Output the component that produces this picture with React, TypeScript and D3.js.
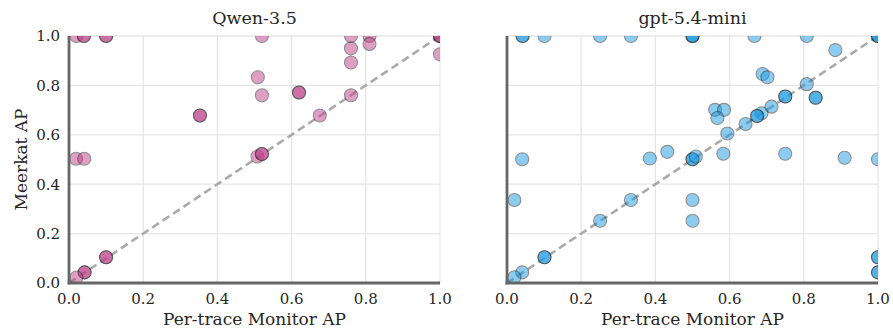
import React, {useEffect, useRef} from 'react';
import * as d3 from 'd3';

// panel titles and colours
const models = ["Qwen-3.5", "gpt-5.4-mini"];
const colors = ["#c0408a", "#1a9be2"];
const ticks = [0, 0.2, 0.4, 0.6, 0.8, 1.0];

// per-trace monitor AP (x) vs Meerkat AP (y), one list per model
const qwenX = [0.02, 0.04, 0.04, 0.1, 0.1, 0.52, 0.76, 0.76, 0.76, 0.76, 0.81, 0.81, 1.0, 1.0, 1.0, 1.0,
    0.509, 0.52, 0.62, 0.62, 0.353, 0.353, 0.676, 0.019, 0.041, 0.508, 0.52, 0.52, 0.1, 0.1, 0.042, 0.042, 0.02];
const qwenY = [1.0, 1.0, 1.0, 1.0, 1.0, 1.0, 1.0, 0.95, 0.893, 0.76, 1.0, 0.968, 1.0, 1.0, 1.0, 0.926,
    0.833, 0.76, 0.771, 0.771, 0.678, 0.678, 0.678, 0.503, 0.503, 0.512, 0.522, 0.522, 0.104, 0.104, 0.043, 0.043, 0.022];

const gptX = [0.042, 0.042, 0.101, 0.251, 0.334, 0.5, 0.5, 0.5, 0.667, 0.808, 1.0, 1.0, 1.0,
    0.885, 0.689, 0.702, 0.808, 0.75, 0.75, 0.832, 0.832, 0.713, 0.686, 0.674, 0.674, 0.643,
    0.561, 0.585, 0.567, 0.594, 0.432, 0.385, 0.5, 0.5, 0.509, 0.583, 0.75, 0.91, 1.0, 0.041,
    0.02, 0.334, 0.5, 0.251, 0.5, 0.101, 0.101, 0.041, 0.02, 1.0, 1.0, 1.0, 1.0];
const gptY = [1.0, 1.0, 1.0, 1.0, 1.0, 1.0, 1.0, 1.0, 1.0, 1.0, 1.0, 1.0, 1.0,
    0.943, 0.846, 0.833, 0.805, 0.755, 0.755, 0.75, 0.75, 0.714, 0.687, 0.676, 0.676, 0.644,
    0.701, 0.701, 0.668, 0.605, 0.531, 0.504, 0.501, 0.501, 0.512, 0.523, 0.523, 0.507, 0.501, 0.501,
    0.336, 0.336, 0.336, 0.252, 0.252, 0.104, 0.104, 0.043, 0.023, 0.104, 0.104, 0.043, 0.043];

const seriesX = [qwenX, gptX];
const seriesY = [qwenY, gptY];

function App() {
    const svgRef = useRef<SVGSVGElement>(null);

    useEffect(() => {
        const width = 893;
        const height = 333;
        const svg = d3.select(svgRef.current);
        svg.selectAll("*").remove();
        svg.attr('width', width).attr('height', height);

        const font = "'DejaVu Serif', serif";
        const panelLeft = [69, 507];
        const panelWidth = 371;
        const top = 36;
        const bottom = 283;

        const yScale = d3.scaleLinear().domain([0, 1]).range([bottom, top]);

        models.forEach((model, p) => {
            const xScale = d3.scaleLinear().domain([0, 1]).range([panelLeft[p], panelLeft[p] + panelWidth]);
            const g = svg.append('g');

            // grid
            g.append('g').selectAll('line').data(ticks).join('line')
                .attr('x1', d => xScale(d)).attr('x2', d => xScale(d))
                .attr('y1', top).attr('y2', bottom)
                .attr('stroke', '#e6e6e6').attr('stroke-width', 1.3);
            g.append('g').selectAll('line').data(ticks).join('line')
                .attr('x1', xScale(0)).attr('x2', xScale(1))
                .attr('y1', d => yScale(d)).attr('y2', d => yScale(d))
                .attr('stroke', '#e6e6e6').attr('stroke-width', 1.3);

            // diagonal
            g.append('line')
                .attr('x1', xScale(0)).attr('y1', yScale(0))
                .attr('x2', xScale(1)).attr('y2', yScale(1))
                .attr('stroke', '#aaaaaa').attr('stroke-width', 2.6)
                .attr('stroke-dasharray', '8,4.5');

            const clipId = `clip-${p}`;
            svg.append('clipPath').attr('id', clipId)
                .append('rect')
                .attr('x', xScale(0)).attr('y', top)
                .attr('width', panelWidth).attr('height', bottom - top);

            const xs = seriesX[p];
            const ys = seriesY[p];
            g.append('g')
                .attr('clip-path', `url(#${clipId})`)
                .selectAll('circle')
                .data(xs.map((x, i) => [x, ys[i]]))
                .join('circle')
                .attr('cx', d => xScale(d[0]))
                .attr('cy', d => yScale(d[1]))
                .attr('r', 6.5)
                .attr('fill', colors[p])
                .attr('stroke', '#222')
                .attr('stroke-width', 1.1)
                .attr('opacity', 0.5);

            // spines
            g.append('line')
                .attr('x1', xScale(0)).attr('x2', xScale(0))
                .attr('y1', top).attr('y2', bottom + 1.4)
                .attr('stroke', '#666').attr('stroke-width', 2.8);
            g.append('line')
                .attr('x1', xScale(0) - 1.4).attr('x2', xScale(1))
                .attr('y1', bottom).attr('y2', bottom)
                .attr('stroke', '#666').attr('stroke-width', 2.8);

            // x tick labels
            g.append('g').selectAll('text').data(ticks).join('text')
                .attr('x', d => xScale(d)).attr('y', 304)
                .attr('text-anchor', 'middle')
                .style('font-family', font).style('font-size', '15px').attr('fill', '#262626')
                .text(d => d.toFixed(1));

            if (p === 0) {
                g.append('g').selectAll('text').data(ticks).join('text')
                    .attr('x', xScale(0) - 9).attr('y', d => yScale(d))
                    .attr('dy', '0.36em')
                    .attr('text-anchor', 'end')
                    .style('font-family', font).style('font-size', '15px').attr('fill', '#262626')
                    .text(d => d.toFixed(1));

                g.append('text')
                    .attr('transform', `translate(27, ${(top + bottom) / 2}) rotate(-90)`)
                    .attr('text-anchor', 'middle')
                    .style('font-family', font).style('font-size', '17px').attr('fill', '#262626')
                    .text('Meerkat AP');
            }

            g.append('text')
                .attr('x', (xScale(0) + xScale(1)) / 2).attr('y', 325)
                .attr('text-anchor', 'middle')
                .style('font-family', font).style('font-size', '17px').attr('fill', '#262626')
                .text('Per-trace Monitor AP');

            g.append('text')
                .attr('x', (xScale(0) + xScale(1)) / 2).attr('y', 24)
                .attr('text-anchor', 'middle')
                .style('font-family', font).style('font-size', '17.5px').attr('fill', '#262626')
                .text(model);
        });
    }, []);

    return <svg ref={svgRef} style={{position: 'absolute', left: 0, top: 0}}/>;
}

export default App;
